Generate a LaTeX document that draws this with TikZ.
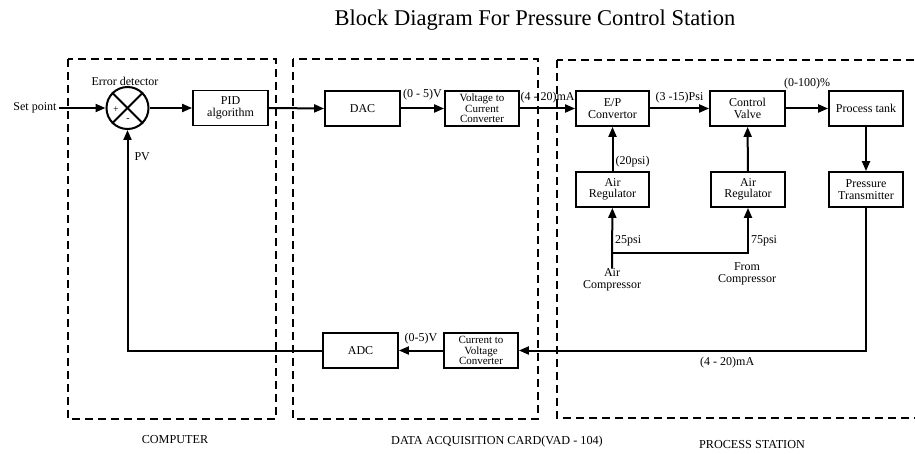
\documentclass[tikz,border=0pt]{standalone}
\usepackage{fontspec}
\setmainfont{Liberation Serif}
\usepackage{tikz}
\usetikzlibrary{arrows.meta,positioning,calc}

\begin{document}
\begin{tikzpicture}[>={Triangle[length=10pt,width=8pt]}, x=1pt, y=-1pt]
    \tikzset{
        blk/.style={draw, rectangle, line width=1.8pt, minimum height=35pt, minimum width=75pt, inner sep=1pt, align=center, font=\fontsize{12}{11.5}\selectfont},
        blk3/.style={blk, font=\fontsize{11}{10.3}\selectfont},
        sumjn/.style={draw, circle, line width=2pt, minimum size=42pt, inner sep=0pt},
        io/.style={font=\fontsize{12}{12}\selectfont, align=center, inner sep=2pt},
        line/.style={draw, ->, line width=2pt},
        groupbox/.style={draw, line width=2pt, dash pattern=on 8pt off 5pt},
        grouptitle/.style={font=\fontsize{12.2}{12}\selectfont}
    }
    \useasboundingbox (0,0) rectangle (915,454);

    % Title
    \node[font=\fontsize{22.5}{24}\selectfont] (title) at (535,20) {Block Diagram For Pressure Control Station};

    % Dashed group boxes
    \draw[groupbox] (68,59) rectangle (276,419);
    \draw[groupbox] (293,59) rectangle (538,419);
    \draw[groupbox] (557,60) rectangle (930,418);
    \node[grouptitle] (gcomp) at (175,440) {COMPUTER};
    \node[grouptitle] (gdaq) at (497,442) {DATA ACQUISITION CARD(VAD - 104)};
    \node[grouptitle] (gproc) at (752,445) {PROCESS STATION};

    % Computer
    \node[io] (sp) at (35,108) {Set point};
    \node[sumjn] (sum) at (127.5,108) {};
    \draw[line width=2pt] (sum.north east) -- (sum.south west);
    \draw[line width=2pt] (sum.north west) -- (sum.south east);
    \node[io, font=\fontsize{10}{10}\selectfont] (plus) at (116,110) {+};
    \node[io, font=\fontsize{10}{10}\selectfont] (minus) at (128,120) {-};
    \node[io] (errdet) at (125,81) {Error detector};
    \node[blk] (pid) at (230.5,108) {PID\\algorithm};

    % Data acquisition card
    \node[blk] (dac) at (362.5,108.5) {DAC};
    \node[blk3, minimum width=74pt] (v2i) at (482,108.5) {Voltage to\\Current\\Converter};
    \node[blk] (adc) at (360.5,350.5) {ADC};
    \node[blk3, minimum width=74pt] (i2v) at (481,350.5) {Current to\\Voltage\\Converter};

    % Process station
    \node[blk, minimum width=73pt] (ep) at (612.5,108.5) {E/P\\Convertor};
    \node[blk] (cv) at (747.5,108.5) {Control\\Valve};
    \node[blk, minimum width=74pt] (tank) at (866,108.5) {Process tank};
    \node[blk, minimum width=73pt] (reg1) at (612.5,189.5) {Air\\Regulator};
    \node[blk, minimum width=74pt] (reg2) at (748,189.5) {Air\\Regulator};
    \node[blk, minimum width=74pt] (ptx) at (866,189.5) {Pressure\\Transmitter};
    \node[io, inner sep=0pt] (comp) at (612,280) {Air\\Compressor};
    \node[io, inner sep=0pt] (fromcomp) at (747,274) {From\\Compressor};
    \coordinate (br) at (612,253);

    % Forward path
    \path[line] (sp) -- (sum.west);
    \path[line] (sum.east) -- (pid.west);
    \path[line] (pid.east) -- (dac.west);
    \path[line] (dac) -- node[above=5pt, io] {(0 - 5)V} (v2i);
    \path[line] (v2i) -- node[above=2pt, io] {(4 - 20)mA} (ep);
    \path[line] (ep) -- node[above=2pt, io] {(3 -15)Psi} (cv);
    \path[line] (cv) -- node[above=16pt, io] {(0-100)\%} (tank);
    \path[line] (tank) -- (ptx);

    % Air supply
    \path[line] (reg1) -- node[pos=0.22, right, io] {(20psi)} (ep);
    \path[line] (reg2) -- (cv);
    \path[line] (comp.north) -- node[pos=0.45, right, io] {25psi} (reg1);
    \path[line] (br) -| node[pos=0.64, right, io] {75psi} (reg2);

    % Feedback path
    \path[line] (ptx.south) |- node[pos=0.7, below=4pt, io] {(4 - 20)mA} (i2v.east);
    \path[line] (i2v) -- node[above=3pt, io] {(0-5)V} (adc);
    \path[line] (adc.west) -| node[pos=0.94, right=4pt, io] {PV} (sum.south);

\end{tikzpicture}
\end{document}
